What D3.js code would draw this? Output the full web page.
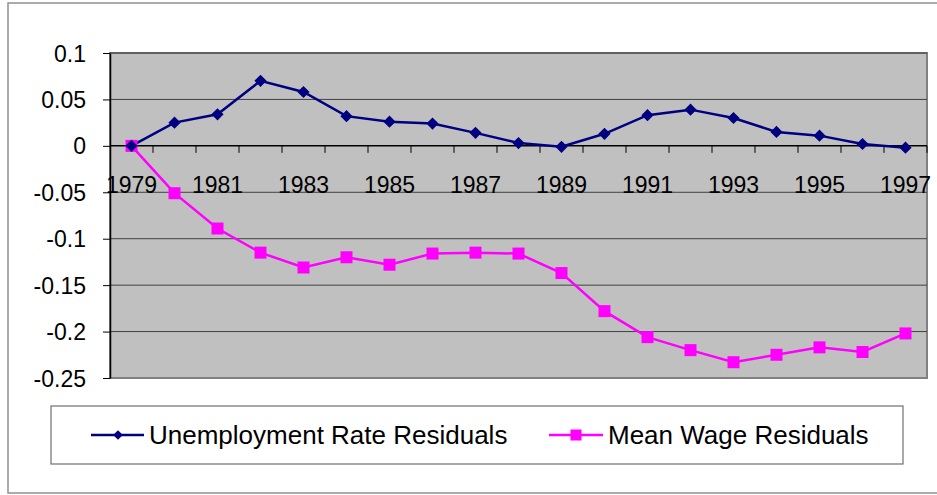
<!DOCTYPE html>
<html>
<head>
<meta charset="utf-8">
<script src="https://cdn.jsdelivr.net/npm/d3@7"></script>
<style>
  html, body { margin: 0; padding: 0; background: #ffffff; }
  svg { display: block; font-family: "Liberation Sans", Arial, sans-serif; }
</style>
</head>
<body>
<svg id="chart" width="937" height="495"></svg>
<script>
const years = [1979,1980,1981,1982,1983,1984,1985,1986,1987,1988,1989,1990,1991,1992,1993,1994,1995,1996,1997];
const unemploymentResiduals = [0, 0.025, 0.034, 0.070, 0.058, 0.032, 0.026, 0.024, 0.014, 0.003, -0.001, 0.013, 0.033, 0.039, 0.030, 0.015, 0.011, 0.002, -0.002];
const meanWageResiduals = [0, -0.051, -0.089, -0.115, -0.131, -0.120, -0.128, -0.116, -0.115, -0.116, -0.137, -0.178, -0.206, -0.220, -0.233, -0.225, -0.217, -0.222, -0.202];
const yTicks = [0.1, 0.05, 0, -0.05, -0.1, -0.15, -0.2, -0.25];
const yTickLabels = ["0.1", "0.05", "0", "-0.05", "-0.1", "-0.15", "-0.2", "-0.25"];
const xLabelYears = [1979,1981,1983,1985,1987,1989,1991,1993,1995,1997];
const seriesNames = ["Unemployment Rate Residuals", "Mean Wage Residuals"];

const svg = d3.select("#chart");
const plot = {left: 110, top: 53, right: 927, bottom: 378};

// outer chart frame
svg.append("rect").attr("x", 8).attr("y", 3).attr("width", 945).attr("height", 490)
  .attr("fill", "#fff").attr("stroke", "#909090").attr("stroke-width", 1.5);

const x = d3.scaleBand().domain(years).range([plot.left, plot.right]).padding(0);
const y = d3.scaleLinear().domain([-0.25, 0.1]).range([plot.bottom, plot.top]);
const cx = d => x(d) + x.bandwidth() / 2;

// plot background
svg.append("rect").attr("x", plot.left).attr("y", plot.top)
  .attr("width", plot.right - plot.left).attr("height", plot.bottom - plot.top)
  .attr("fill", "#c0c0c0").attr("stroke", "#808080").attr("stroke-width", 2);

// gridlines
svg.append("g").selectAll("line").data(yTicks.filter(v => v !== -0.25 && v !== 0)).join("line")
  .attr("x1", plot.left).attr("x2", plot.right)
  .attr("y1", d => y(d)).attr("y2", d => y(d))
  .attr("stroke", "#404040").attr("stroke-width", 1);

// y axis
const yAxis = d3.axisLeft(y).tickValues(yTicks).tickSize(7).tickSizeOuter(0)
  .tickFormat((d, i) => yTickLabels[i]);
const gy = svg.append("g").attr("transform", `translate(${plot.left},0)`).call(yAxis);
gy.select(".domain").attr("stroke", "#000").attr("stroke-width", 1.5);
gy.selectAll(".tick line").attr("stroke", "#000");
gy.selectAll(".tick text").attr("font-size", 23).attr("font-family", "Liberation Sans, Arial, sans-serif")
  .attr("fill", "#000").attr("x", -24).attr("dy", "0.35em");

// x axis at zero
const gx = svg.append("g").attr("transform", `translate(0,${y(0)})`);
gx.append("line").attr("x1", plot.left).attr("x2", plot.right).attr("y1", 0).attr("y2", 0)
  .attr("stroke", "#000").attr("stroke-width", 1.5);
gx.selectAll("line.tk").data(years).join("line").attr("class", "tk")
  .attr("x1", d => x(d) + x.bandwidth()).attr("x2", d => x(d) + x.bandwidth())
  .attr("y1", 0).attr("y2", 7).attr("stroke", "#000").attr("stroke-width", 1);
const xAxis = d3.axisBottom(x).tickValues(xLabelYears).tickSize(0).tickSizeOuter(0);
const gxl = svg.append("g").attr("transform", `translate(0,${y(0)})`).call(xAxis);
gxl.select(".domain").remove();
gxl.selectAll(".tick text").attr("font-size", 23).attr("font-family", "Liberation Sans, Arial, sans-serif")
  .attr("fill", "#000").attr("y", 47).attr("dy", 0);

// lines
const line = d3.line().x((d, i) => cx(years[i])).y(d => y(d));
svg.append("path").datum(meanWageResiduals).attr("d", line)
  .attr("fill", "none").attr("stroke", "#ff00ff").attr("stroke-width", 2.5);
svg.append("path").datum(unemploymentResiduals).attr("d", line)
  .attr("fill", "none").attr("stroke", "#000080").attr("stroke-width", 2.5);

// markers
const sq = 12;
svg.append("g").selectAll("rect").data(meanWageResiduals).join("rect")
  .attr("x", (d, i) => cx(years[i]) - sq / 2).attr("y", d => y(d) - sq / 2)
  .attr("width", sq).attr("height", sq).attr("fill", "#ff00ff");
const diamond = d3.symbol().type(d3.symbolDiamond2).size(95);
svg.append("g").selectAll("path").data(unemploymentResiduals).join("path")
  .attr("transform", (d, i) => `translate(${cx(years[i])},${y(d)})`)
  .attr("d", diamond()).attr("fill", "#000080");

// legend
const lg = svg.append("g");
lg.append("rect").attr("x", 51).attr("y", 406).attr("width", 852).attr("height", 58)
  .attr("fill", "#fff").attr("stroke", "#707070").attr("stroke-width", 1.2);
const ly = 435;
lg.append("line").attr("x1", 91).attr("x2", 144).attr("y1", ly).attr("y2", ly)
  .attr("stroke", "#000080").attr("stroke-width", 2.5);
lg.append("path").attr("transform", `translate(118,${ly})`)
  .attr("d", d3.symbol().type(d3.symbolDiamond2).size(60)()).attr("fill", "#000080");
lg.append("text").attr("x", 149).attr("y", ly).attr("dy", "0.35em").attr("font-size", 26)
  .attr("fill", "#000").text(seriesNames[0]);
lg.append("line").attr("x1", 549).attr("x2", 603).attr("y1", ly).attr("y2", ly)
  .attr("stroke", "#ff00ff").attr("stroke-width", 2.5);
lg.append("rect").attr("x", 576 - 5.5).attr("y", ly - 5.5).attr("width", 11).attr("height", 11).attr("fill", "#ff00ff");
lg.append("text").attr("x", 608).attr("y", ly).attr("dy", "0.35em").attr("font-size", 26)
  .attr("fill", "#000").text(seriesNames[1]);
</script>
</body>
</html>
